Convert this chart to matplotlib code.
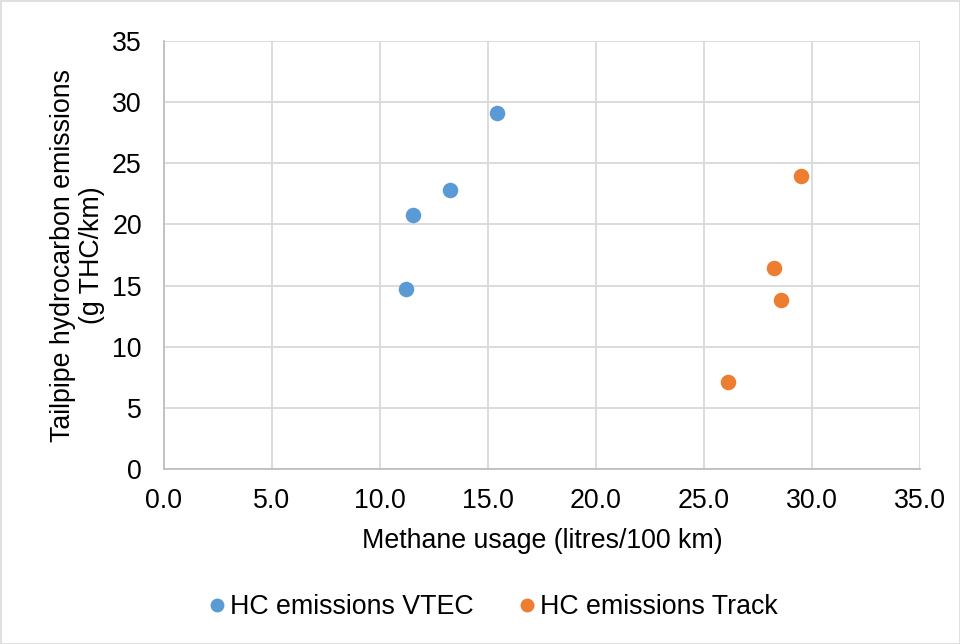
import matplotlib
matplotlib.use("Agg")
import matplotlib.pyplot as plt
from matplotlib.lines import Line2D
from matplotlib.patches import Rectangle

plt.rcParams['font.family'] = ['Liberation Sans', 'DejaVu Sans']

vtec_x = [11.2, 11.55, 13.25, 15.4]
vtec_y = [14.75, 20.8, 22.8, 29.1]
track_x = [26.1, 28.25, 28.55, 29.5]
track_y = [7.1, 16.4, 13.8, 24.0]
series_names = ["HC emissions VTEC", "HC emissions Track"]
colors = ["#5B9BD5", "#ED7D31"]
x_ticks = [0, 5, 10, 15, 20, 25, 30, 35]
y_ticks = [0, 5, 10, 15, 20, 25, 30, 35]

FS = 19.3

fig = plt.figure(figsize=(9.6, 6.44), dpi=100)
ax = fig.add_axes([164/960, 1-469/644, (920-164)/960, (469-41)/644])

ax.scatter(vtec_x, vtec_y, s=125, color=colors[0], zorder=3, linewidths=0)
ax.scatter(track_x, track_y, s=125, color=colors[1], zorder=3, linewidths=0)

ax.set_xlim(0, 35)
ax.set_ylim(0, 35)
ax.set_xticks(x_ticks)
ax.set_xticklabels([f"{v:.1f}" for v in x_ticks])
ax.set_yticks(y_ticks)
ax.set_yticklabels([str(v) for v in y_ticks])
ax.grid(True, color="#D9D9D9", linewidth=1.3)
ax.set_axisbelow(True)
for s in ["top", "right"]:
    ax.spines[s].set_visible(False)
for s in ["left", "bottom"]:
    ax.spines[s].set_color("#BFBFBF")
    ax.spines[s].set_linewidth(1.3)
ax.tick_params(length=0, labelsize=FS, colors="black")
ax.tick_params(axis='y', pad=16)
ax.tick_params(axis='x', pad=14)
ax.set_xlabel("Methane usage (litres/100 km)", fontsize=FS, labelpad=10)
ax.set_ylabel("Tailpipe hydrocarbon emissions\n(g THC/km)", fontsize=FS, labelpad=5, linespacing=1.15)

handles = [Line2D([], [], marker='o', linestyle='none', markersize=10,
                  markerfacecolor=c, markeredgewidth=0) for c in colors]
fig.legend(handles, series_names, loc='center', bbox_to_anchor=(0.514, 1-607/644),
           ncol=2, frameon=False, fontsize=FS, handletextpad=0.19,
           columnspacing=1.67, handlelength=0.6)

fig.patches.append(Rectangle((0.5/960, 0.5/644), 1-1/960, 1-1/644, transform=fig.transFigure,
                             fill=False, edgecolor="#D9D9D9", linewidth=1.2))

fig.savefig("out.png", dpi=100)
